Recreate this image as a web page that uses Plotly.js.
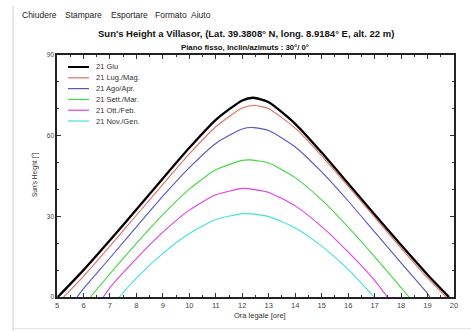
<!DOCTYPE html>
<html><head><meta charset="utf-8">
<script src="https://cdn.plot.ly/plotly-3.0.1.min.js"></script>
<style>html,body{margin:0;padding:0;background:#fff;}#c{width:471px;height:331px;}</style>
</head><body><div id="c"></div>
<script>
const seriesNames = ["21 Giu", "21 Lug./Mag.", "21 Ago/Apr.", "21 Sett./Mar.", "21 Ott./Feb.", "21 Nov./Gen."];
const seriesColors = ["#000000", "#e0705f", "#5555c8", "#44d844", "#e040e0", "#44e0e0"];

const hoursGiu = [5.03, 6, 7, 8, 9, 10, 11, 12, 12.42, 13, 14, 15, 16, 17, 18, 19, 19.81];
const heightGiu = [0, 10.0, 21.1, 32.5, 44.1, 55.5, 65.9, 73.1, 74.1, 72.4, 64.4, 53.7, 42.2, 30.7, 19.3, 8.3, 0];

const hoursLug = [5.25, 6, 7, 8, 9, 10, 11, 12, 12.47, 13, 14, 15, 16, 17, 18, 19, 19.7];
const heightLug = [0, 7.7, 18.9, 30.4, 41.9, 53.2, 63.3, 70.3, 71.2, 70.0, 62.8, 52.5, 41.2, 29.7, 18.2, 7.1, 0];

const hoursAgo = [5.76, 6, 7, 8, 9, 10, 11, 12, 12.42, 13, 14, 15, 16, 17, 18, 19, 19.08];
const heightAgo = [0, 3.1, 14.5, 26.1, 37.5, 48.1, 57.1, 62.5, 63.0, 61.9, 55.8, 46.5, 35.7, 24.2, 12.7, 1.3, 0];

const hoursSett = [6.26, 7, 8, 9, 10, 11, 12, 12.28, 13, 14, 15, 16, 17, 18, 18.3];
const heightSett = [0, 8.6, 19.9, 30.6, 40.1, 47.3, 50.8, 51.0, 49.8, 44.4, 36.1, 26.0, 15.0, 3.5, 0];

const hoursOtt = [6.75, 7, 8, 9, 10, 11, 12, 12.12, 13, 14, 15, 16, 17, 17.48];
const heightOtt = [0, 3.5, 14.3, 24.1, 32.3, 38.0, 40.4, 40.4, 38.9, 33.9, 26.2, 16.8, 6.2, 0];

const hoursNov = [7.35, 8, 9, 10, 11, 12, 12.17, 13, 14, 15, 16, 16.98];
const heightNov = [0, 7.0, 16.2, 23.6, 28.8, 31.0, 31.0, 29.9, 25.7, 18.9, 10.3, 0];

const xTickVals = [5, 6, 7, 8, 9, 10, 11, 12, 13, 14, 15, 16, 17, 18, 19, 20];
const yTickVals = [0, 30, 60, 90];
const menuItems = ["Chiudere", "Stampare", "Esportare", "Formato", "Aiuto"];

const allX = [hoursGiu, hoursLug, hoursAgo, hoursSett, hoursOtt, hoursNov];
const allY = [heightGiu, heightLug, heightAgo, heightSett, heightOtt, heightNov];

const traces = allX.map((xs, i) => ({
  x: xs, y: allY[i], type: 'scatter', mode: 'lines', name: seriesNames[i],
  line: {color: seriesColors[i], width: i === 0 ? 2.3 : 1.1, shape: 'spline', smoothing: 0.6},
  showlegend: false, hoverinfo: 'skip'
}));

// plot area in pixels: x 57..454, y 55..297
const L = 57, R = 454, T = 55, B = 297;
const px = v => (v - L) / (R - L);
const py = v => (B - v) / (B - T);

const shapes = [];
const annotations = [];
// compact legend
seriesNames.forEach((n, i) => {
  const yy = 67 + i * 10.8;
  shapes.push({type: 'line', xref: 'paper', yref: 'paper', x0: px(68), x1: px(89), y0: py(yy), y1: py(yy),
    line: {color: seriesColors[i], width: i === 0 ? 2 : 1.2}});
  annotations.push({xref: 'paper', yref: 'paper', x: px(94), y: py(yy), xanchor: 'left', yanchor: 'middle',
    text: n, showarrow: false, font: {family: 'Liberation Sans, Arial', size: 7.5, color: '#333'}});
});
// window borders
shapes.push({type: 'line', xref: 'paper', yref: 'paper', x0: px(13), x1: px(13), y0: py(6), y1: py(331),
  line: {color: '#c9d3e0', width: 1}});
shapes.push({type: 'line', xref: 'paper', yref: 'paper', x0: px(13), x1: px(471), y0: py(328.5), y1: py(328.5),
  line: {color: '#e2e2e2', width: 1}});

const menuX = [21, 64, 110, 154, 190];
menuItems.forEach((m, i) => {
  annotations.push({xref: 'paper', yref: 'paper', x: px(menuX[i]), y: py(15), xanchor: 'left', yanchor: 'middle',
    text: m, showarrow: false, borderpad: 0,
    font: {family: 'Liberation Sans, Arial', size: 8.5, color: '#222'}});
});
annotations.push({xref: 'paper', yref: 'paper', x: px(246), y: py(33), xanchor: 'center', yanchor: 'middle',
  text: "<b>Sun's Height a Villasor, (Lat. 39.3808° N, long. 8.9184° E, alt. 22 m)</b>", showarrow: false,
  font: {family: 'Liberation Sans, Arial', size: 9.5, color: '#111'}});
annotations.push({xref: 'paper', yref: 'paper', x: px(245), y: py(47), xanchor: 'center', yanchor: 'middle',
  text: "<b>Piano fisso, Inclin/azimuts : 30°/ 0°</b>", showarrow: false,
  font: {family: 'Liberation Sans, Arial', size: 7.8, color: '#111'}});
annotations.push({xref: 'paper', yref: 'paper', x: px(35), y: py(175), xanchor: 'center', yanchor: 'middle',
  text: "Sun's Height [°]", textangle: -90, showarrow: false,
  font: {family: 'Liberation Sans, Arial', size: 6.5, color: '#333'}});
annotations.push({xref: 'paper', yref: 'paper', x: px(260), y: py(315), xanchor: 'center', yanchor: 'middle',
  text: "Ora legale [ore]", showarrow: false,
  font: {family: 'Liberation Sans, Arial', size: 7.5, color: '#333'}});

const layout = {
  width: 471, height: 331,
  margin: {l: L, r: 471 - R, t: T, b: 331 - B, pad: 0},
  paper_bgcolor: '#fff', plot_bgcolor: '#fff',
  showlegend: false,
  font: {family: 'Liberation Sans, Arial', size: 7.5, color: '#444'},
  xaxis: {range: [5, 20], tickvals: xTickVals, ticktext: xTickVals.map(String), ticks: 'inside', ticklen: 4,
    tickwidth: 1, tickcolor: '#333', showgrid: false, zeroline: false, showline: true, linewidth: 1.6,
    linecolor: '#222', mirror: 'ticks', ticklabelstandoff: 0,
    minor: {dtick: 0.5, ticks: 'inside', ticklen: 2, tickcolor: '#333', showgrid: false},
    tickfont: {size: 7.5, color: '#444'}, fixedrange: true},
  yaxis: {range: [0, 90], tickvals: yTickVals, ticktext: yTickVals.map(String), ticks: 'inside', ticklen: 4,
    tickwidth: 1, tickcolor: '#333', showgrid: false, zeroline: false, showline: true, linewidth: 1.6,
    linecolor: '#222', mirror: 'ticks',
    minor: {dtick: 10, ticks: 'inside', ticklen: 2, tickcolor: '#333', showgrid: false},
    tickfont: {size: 6.5, color: '#444'}, fixedrange: true},
  shapes: shapes, annotations: annotations
};
Plotly.newPlot('c', traces, layout, {displayModeBar: false, staticPlot: true});
</script></body></html>
